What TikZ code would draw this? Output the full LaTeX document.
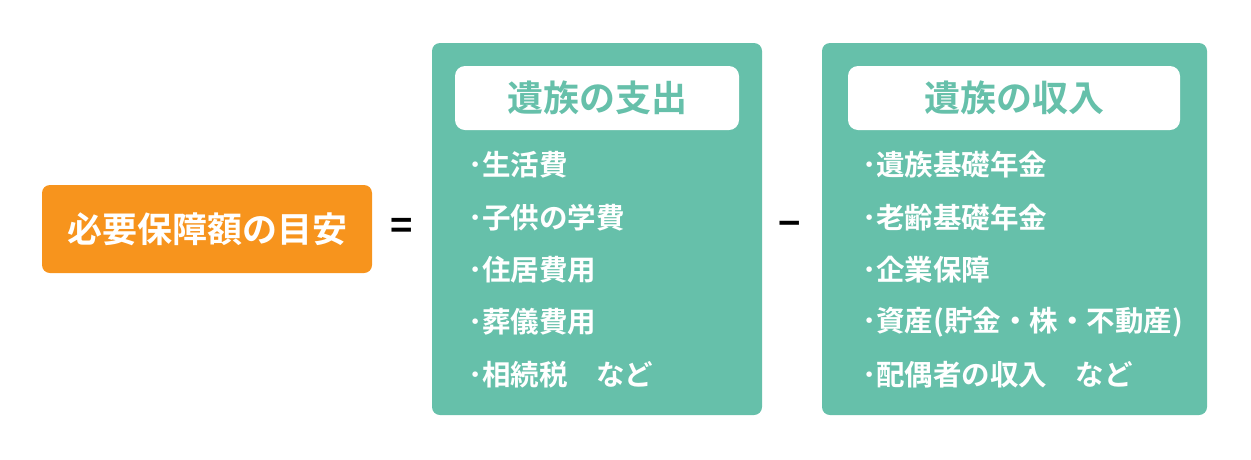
\documentclass[tikz,border=0pt]{standalone}
\usepackage{fontspec}
\setmainfont{Noto Sans CJK JP}[BoldFont={Noto Sans CJK JP Bold}]
\definecolor{hoken}{HTML}{F7941D}
\definecolor{midori}{HTML}{66C0AA}

\begin{document}
\begin{tikzpicture}[x=1pt,y=-1pt,
        box/.style={rounded corners=8pt,inner sep=0pt},
        title/.style={fill=white,rounded corners=10pt,inner sep=0pt,
          minimum height=64pt,text=midori,font=\bfseries\fontsize{36}{40}\selectfont},
        item/.style={anchor=west,inner sep=0pt,text=white,
          font=\bfseries\fontsize{28.5}{32}\selectfont},
        sign/.style={inner sep=0pt,font=\bfseries\fontsize{38}{40}\selectfont}]

  \useasboundingbox (0,0) rectangle (1251,459);

  \node[box,fill=hoken,minimum width=330pt,minimum height=88pt,text=white,
        font=\bfseries\fontsize{35}{40}\selectfont] (meyasu) at (207,229) {必要保障額の目安};
  \node[sign] (eq) at (402,229) {=};

  \node[box,fill=midori,minimum width=330pt,minimum height=372pt] (shishutsu) at (597,229) {};
  \node[title,minimum width=284pt] (shishutsut) at (597,98) {遺族の支出};

  \node[sign] (minus) at (790,229) {−};

  \node[box,fill=midori,minimum width=385pt,minimum height=372pt] (shunyu) at (1014.5,229) {};
  \node[title,minimum width=332pt] (shunyut) at (1014,98) {遺族の収入};

  \foreach \t [count=\i] in {生活費,子供の学費,住居費用,葬儀費用,相続税　など}
    \node[item] (s\i) at (468,{165+52.3*(\i-1)}) {･\t};

  \foreach \t [count=\i] in {遺族基礎年金,老齢基礎年金,企業保障,資産(貯金・株・不動産),配偶者の収入　など}
    \node[item] (r\i) at (862,{165+52.3*(\i-1)}) {･\t};

\end{tikzpicture}
\end{document}
